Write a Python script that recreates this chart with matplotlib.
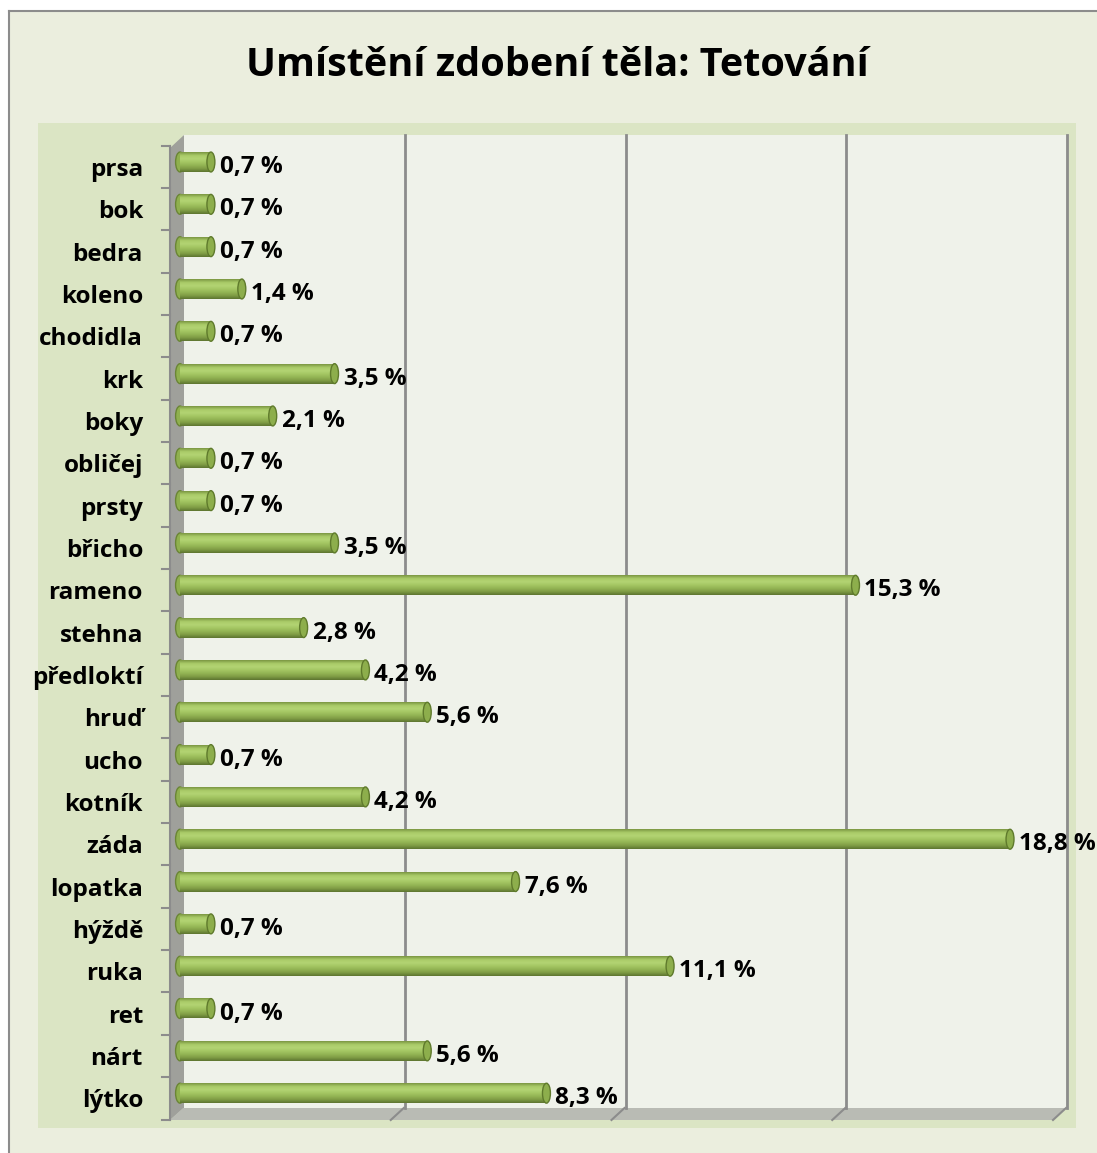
import numpy as np
import matplotlib.pyplot as plt
import matplotlib.transforms as mtransforms
from matplotlib.colors import to_rgb
from matplotlib.patches import Rectangle, Polygon, Ellipse

plt.rcParams['font.family'] = ['Open Sans', 'DejaVu Sans']

# data (top to bottom as in the chart)
places = ['prsa', 'bok', 'bedra', 'koleno', 'chodidla', 'krk', 'boky', 'obličej',
          'prsty', 'břicho', 'rameno', 'stehna', 'předloktí', 'hruď', 'ucho',
          'kotník', 'záda', 'lopatka', 'hýždě', 'ruka', 'ret', 'nárt', 'lýtko']
percent = [0.7, 0.7, 0.7, 1.4, 0.7, 3.5, 2.1, 0.7, 0.7, 3.5, 15.3, 2.8, 4.2,
           5.6, 0.7, 4.2, 18.8, 7.6, 0.7, 11.1, 0.7, 5.6, 8.3]
title = 'Umístění zdobení těla: Tetování'

W, H = 1097, 1153
fig = plt.figure(figsize=(W / 100, H / 100), dpi=100, facecolor='#EBEEDE')

# background and the 3d walls, drawn in pixel space
bg = fig.add_axes([0, 0, 1, 1])
bg.set_xlim(0, W)
bg.set_ylim(H, 0)
bg.axis('off')
# white margin above and left of the chart frame
bg.fill_between([0, W], [0, 0], [11, 11], color='white', lw=0)
bg.fill_between([0, 9], [0, 0], [H, H], color='white', lw=0)
bg.plot([9, W + 5], [11, 11], color='#8C8C8C', lw=1.5)
bg.plot([9, 9], [11, H + 5], color='#8C8C8C', lw=1.5)
bg.add_patch(Rectangle((38, 123), 1038, 1005, facecolor='#DBE5C4', edgecolor='none'))
bg.add_patch(Rectangle((183, 135), 883, 973, facecolor='#EFF2EA', edgecolor='none'))
bg.add_patch(Polygon([(170, 148), (184, 135), (184, 1108), (170, 1120)], facecolor='#9FA09B', edgecolor='none'))
bg.add_patch(Polygon([(170, 1120), (183, 1108), (1066, 1108), (1053, 1120)], facecolor='#B9BBB4', edgecolor='none'))
bg.plot([170, 170], [146, 1120], color='#8C8C8C', lw=1.5)
bg.plot([162, 170], [1120, 1120], color='#8C8C8C', lw=1.5)

# main axes: value 0 sits at x=180 px, 20 % at x=1063 px
left, right, top, bottom = 180, 1063, 135, 1108
ax = fig.add_axes([left / W, 1 - bottom / H, (right - left) / W, (bottom - top) / H])
ax.patch.set_alpha(0)
for s in ax.spines.values():
    s.set_visible(False)
ax.set_xticks([])
ax.set_yticks([])

# gridlines (back wall sits 3-4 px right of the bar plane)
grid_tr = mtransforms.blended_transform_factory(
    ax.transData + mtransforms.ScaledTranslation(4 / 100, 0, fig.dpi_scale_trans), ax.transAxes)
for g in [5, 10, 15, 20]:
    ax.plot([g, g], [0, 1], color='#8C8C8C', lw=2, transform=grid_tr, zorder=1, clip_on=False)
    xb = 183 + g / 20 * 883
    bg.plot([xb, xb - 13], [1108, 1120], color='#8C8C8C', lw=1.5)

# cylinder shading, top to bottom
anchors = ['#7C9843', '#A9CB68', '#B3D473', '#A4C663', '#93B454', '#7F9C45', '#5E7630']
pos = np.linspace(0, 1, len(anchors))
t = np.linspace(0, 1, 40)
grad = np.array([[np.interp(tt, pos, [to_rgb(c)[i] for c in anchors]) for i in range(3)] for tt in t])
grad = grad[:, None, :]

bh = 0.47
ypos = list(range(len(places)))
for y, v in zip(ypos, percent):
    ax.add_patch(Ellipse((0, y), 0.2, bh, facecolor='#8FB04E', edgecolor='#6A8535',
                         lw=1, zorder=2, clip_on=False))
    ax.imshow(grad, extent=(0, v, y + bh / 2, y - bh / 2), aspect='auto',
              interpolation='bilinear', zorder=3)
    ax.add_patch(Ellipse((v, y), 0.18, bh, facecolor='#8DAE4C', edgecolor='#5F7A2C',
                         lw=1, zorder=4))

ax.set_xlim(0, 20)
ax.set_ylim(22.35, -0.638)

# value labels
lab_tr = ax.transData + mtransforms.ScaledTranslation(9 / 100, -5 / 100, fig.dpi_scale_trans)
for y, v in zip(ypos, percent):
    ax.text(v, y, f'{v:.1f}'.replace('.', ',') + ' %', transform=lab_tr, ha='left',
            va='center', fontsize=17.5, fontweight='bold', zorder=5, clip_on=False)

# category labels and tick marks
cat_tr = mtransforms.blended_transform_factory(ax.transAxes, ax.transData) + \
    mtransforms.ScaledTranslation(-37 / 100, -8 / 100, fig.dpi_scale_trans)
for y, name in zip(ypos, places):
    ax.text(0, y, name, transform=cat_tr, ha='right', va='center', fontsize=17.5,
            fontweight='bold', clip_on=False)
tick_tr = mtransforms.blended_transform_factory(ax.transAxes, ax.transData) + \
    mtransforms.ScaledTranslation(0, -5 / 100, fig.dpi_scale_trans)
span = right - left
for b in [y - 0.5 for y in ypos]:
    ax.plot([-18 / span, -10 / span], [b, b], transform=tick_tr, color='#8C8C8C',
            lw=1.5, clip_on=False)

fig.text(557.5 / W, 1 - 66 / H, title, ha='center', va='center', fontsize=28.5,
         fontweight='bold')

fig.savefig('out.png', dpi=100, facecolor=fig.get_facecolor())
